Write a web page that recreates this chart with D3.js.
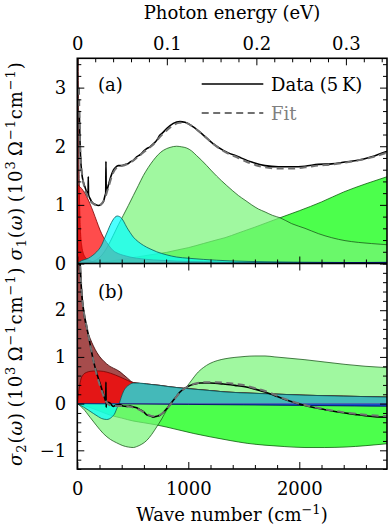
<!DOCTYPE html>
<html>
<head>
<meta charset="utf-8">
<script src="https://cdn.jsdelivr.net/npm/d3@7"></script>
<style>
  body { margin: 0; background: #fff; }
  svg { display: block; font-family: "DejaVu Serif", serif; }
</style>
</head>
<body>
<div id="chart"></div>
<script>
// ---- data (wave number in cm^-1, conductivity in 10^3 Ohm^-1 cm^-1) ----
const waveDomain = [0, 2790];
const sigma1Domain = [0, 3.5];
const sigma2Domain = [-1.4, 3];
const waveTicks = [0, 1000, 2000];
const waveMinorTicks = [200, 400, 600, 800, 1200, 1400, 1600, 1800, 2200, 2400, 2600];
const energyTicks = [0, 0.1, 0.2, 0.3];
const energyMinorTicks = [0.02, 0.04, 0.06, 0.08, 0.12, 0.14, 0.16, 0.18, 0.22, 0.24, 0.26, 0.28, 0.32, 0.34];
const sigma1Ticks = [0, 1, 2, 3];
const sigma2Ticks = [-1, 0, 1, 2];
const cmPerEV = 8065.54;

// measured sigma1
const dataS1 = [[18,2.6],[24,2.1],[30,1.8],[40,1.55],[54,1.39],[70,1.3],[85,1.22],[97,1.2],[99,1.48],[101,1.18],
  [114,1.11],[140,1.03],[160,1.01],[189,0.99],[215,1.01],[234,1.05],[250,1.16],[256,1.2],[258,1.74],[261,1.22],
  [279,1.33],[300,1.47],[324,1.59],[345,1.64],[369,1.67],[400,1.67],[430,1.69],[455,1.7],[475,1.73],[505,1.76],
  [535,1.82],[570,1.86],[600,1.92],[625,1.96],[655,1.99],[685,2.04],[715,2.1],[745,2.19],[775,2.24],[805,2.3],
  [865,2.39],[925,2.42],[970,2.41],[1045,2.33],[1135,2.19],[1225,2.04],[1315,1.93],[1451,1.82],[1571,1.73],
  [1691,1.67],[1811,1.65],[1931,1.65],[2051,1.66],[2171,1.69],[2292,1.7],[2412,1.73],[2532,1.76],[2652,1.82],
  [2772,1.9],[2790,1.91]];
const fitS1 = [[15,3.0],[20,2.4],[30,1.8],[45,1.5],[60,1.33],[80,1.2],[100,1.12],[130,1.04],[160,1.0],[190,0.98],
  [220,1.02],[250,1.12],[280,1.3],[324,1.55],[369,1.65],[430,1.68],[475,1.72],[535,1.8],[625,1.94],[685,2.03],
  [745,2.16],[805,2.27],[865,2.36],[925,2.4],[970,2.4],[1045,2.33],[1135,2.19],[1225,2.04],[1315,1.92],
  [1451,1.8],[1571,1.7],[1691,1.64],[1811,1.62],[1931,1.62],[2051,1.64],[2171,1.67],[2292,1.69],[2412,1.72],
  [2532,1.76],[2652,1.81],[2772,1.88],[2790,1.89]];

// measured sigma2
const dataS2 = [[24,3.05],[40,2.36],[60,1.95],[85,1.64],[115,1.28],[144,0.93],[175,0.65],[205,0.43],[234,0.21],
  [250,0.09],[256,0.05],[258,0.46],[260,-0.08],[262,0.02],[279,0.03],[295,0.01],[324,-0.06],[350,-0.03],
  [385,-0.02],[410,-0.05],[445,-0.06],[475,-0.05],[505,-0.07],[535,-0.09],[565,-0.13],[595,-0.17],[625,-0.24],
  [655,-0.26],[685,-0.29],[715,-0.27],[745,-0.25],[775,-0.19],[805,-0.11],[835,-0.02],[865,0.07],[895,0.16],
  [925,0.25],[970,0.33],[1015,0.39],[1060,0.42],[1105,0.44],[1195,0.44],[1315,0.42],[1420,0.39],[1511,0.36],
  [1600,0.31],[1691,0.25],[1780,0.17],[1871,0.09],[1960,0.02],[2051,-0.04],[2140,-0.09],[2231,-0.13],
  [2322,-0.17],[2412,-0.2],[2500,-0.23],[2592,-0.26],[2680,-0.28],[2790,-0.29]];
const fitS2 = [[22,3.2],[40,2.36],[60,1.95],[85,1.64],[115,1.28],[144,0.93],[175,0.62],[205,0.38],[234,0.18],
  [260,0.04],[290,-0.03],[330,-0.05],[400,-0.05],[475,-0.07],[550,-0.12],[625,-0.22],[685,-0.27],[745,-0.24],
  [805,-0.12],[865,0.06],[925,0.24],[1015,0.39],[1105,0.45],[1195,0.46],[1315,0.45],[1420,0.42],[1511,0.39],
  [1600,0.33],[1691,0.27],[1780,0.19],[1871,0.1],[1960,0.03],[2051,-0.03],[2231,-0.12],[2412,-0.19],
  [2592,-0.24],[2790,-0.27]];

// fit components, sigma1
const narrowDrudeS1 = [[0,8],[4,5],[8,3.6],[12,2.4],[16,1.6],[20,1.1],[24,0.75],[30,0.5],[40,0.3],[55,0.17],
  [70,0.11],[100,0.06],[150,0.03],[250,0.015],[500,0.005],[2790,0]];
const broadDrudeS1 = [[0,1.35],[24,1.31],[54,1.24],[85,1.14],[114,1.02],[144,0.88],[175,0.72],[205,0.57],
  [235,0.45],[265,0.36],[295,0.28],[324,0.22],[369,0.17],[414,0.14],[475,0.11],[535,0.09],[625,0.07],
  [745,0.055],[900,0.04],[1135,0.03],[1400,0.02],[2000,0.012],[2790,0.006]];
const farIrS1 = [[0,0],[40,0.05],[100,0.09],[140,0.14],[175,0.2],[215,0.3],[250,0.45],[275,0.56],[295,0.65],
  [320,0.74],[340,0.79],[360,0.81],[380,0.8],[400,0.77],[420,0.71],[445,0.62],[475,0.53],[505,0.45],[550,0.37],
  [595,0.31],[655,0.25],[715,0.2],[800,0.15],[895,0.11],[1000,0.09],[1135,0.07],[1376,0.045],[1700,0.03],
  [2200,0.02],[2790,0.012]];
const midIrS1 = [[0,0],[100,0.02],[160,0.05],[220,0.14],[270,0.28],[324,0.48],[370,0.66],[414,0.82],[460,0.99],
  [505,1.16],[550,1.33],[595,1.5],[640,1.64],[685,1.76],[730,1.86],[775,1.93],[835,1.98],[895,2.0],[940,1.99],
  [985,1.97],[1030,1.92],[1075,1.84],[1120,1.76],[1166,1.67],[1210,1.58],[1256,1.49],[1300,1.41],[1346,1.33],
  [1400,1.24],[1451,1.16],[1511,1.08],[1571,1.0],[1631,0.93],[1691,0.88],[1760,0.82],[1826,0.78],[1931,0.68],
  [2051,0.6],[2171,0.51],[2292,0.44],[2412,0.39],[2532,0.36],[2652,0.34],[2790,0.32]];
const nearIrS1 = [[0,0],[100,0.005],[200,0.02],[300,0.04],[400,0.07],[500,0.1],[600,0.13],[700,0.16],[805,0.19],
  [900,0.23],[1000,0.27],[1135,0.34],[1250,0.4],[1331,0.44],[1450,0.52],[1600,0.62],[1826,0.78],[2000,0.9],
  [2200,1.05],[2400,1.22],[2600,1.36],[2790,1.48]];
const uvS1 = [[0,0],[1000,0.003],[2000,0.01],[2790,0.02]];

// fit components, sigma2
const narrowDrudeS2 = [[0,0],[2,6],[10,5],[24,3.2],[40,2.4],[54,2.0],[85,1.6],[115,1.4],[175,1.1],[265,0.85],
  [385,0.68],[450,0.55],[505,0.45],[625,0.42],[745,0.39],[835,0.36],[1000,0.32],[1195,0.28],[1331,0.25],
  [1600,0.22],[2051,0.18],[2400,0.16],[2790,0.14]];
const broadDrudeS2 = [[0,0],[15,0.3],[30,0.5],[54,0.62],[85,0.67],[114,0.69],[175,0.7],[234,0.69],[300,0.65],
  [385,0.57],[450,0.5],[505,0.45],[625,0.42],[745,0.39],[835,0.36],[1000,0.32],[1195,0.28],[1331,0.25],
  [1600,0.22],[2051,0.18],[2400,0.16],[2790,0.14]];
const farIrS2 = [[0,0],[54,-0.07],[100,-0.14],[144,-0.21],[190,-0.28],[220,-0.32],[265,-0.34],[310,-0.29],
  [340,-0.2],[355,-0.11],[378,0],[395,0.13],[414,0.25],[440,0.35],[460,0.39],[505,0.44],[560,0.44],[625,0.42],
  [745,0.39],[835,0.36],[1000,0.32],[1195,0.28],[1331,0.25],[1600,0.22],[2051,0.18],[2400,0.16],[2790,0.14]];
const midIrS2 = [[0,0],[50,-0.1],[114,-0.29],[170,-0.46],[234,-0.64],[300,-0.77],[355,-0.84],[410,-0.9],
  [460,-0.93],[505,-0.94],[535,-0.92],[580,-0.87],[625,-0.79],[670,-0.66],[715,-0.5],[760,-0.33],[805,-0.14],
  [865,0.05],[925,0.2],[985,0.36],[1030,0.5],[1075,0.64],[1135,0.77],[1195,0.86],[1260,0.92],[1331,0.96],
  [1420,0.99],[1511,1.01],[1600,1.02],[1691,1.02],[1780,1.0],[1871,0.98],[2051,0.94],[2231,0.89],[2412,0.84],
  [2592,0.8],[2790,0.77]];
const nearIrS2 = [[0,0],[100,-0.07],[200,-0.16],[300,-0.25],[400,-0.31],[500,-0.37],[600,-0.41],[700,-0.45],
  [800,-0.5],[925,-0.57],[1050,-0.64],[1195,-0.71],[1376,-0.79],[1530,-0.85],[1691,-0.89],[1870,-0.92],
  [2051,-0.94],[2230,-0.94],[2412,-0.93],[2600,-0.9],[2790,-0.86]];
const uvS2 = [[0,0],[500,-0.008],[1000,-0.017],[1500,-0.027],[2000,-0.038],[2500,-0.05],[2790,-0.056]];

// drawing order and colours of the components
const components = [
  { s1: nearIrS1, s2: nearIrS2, fill: "#00ff00", edge: "#0b5e0b" },
  { s1: midIrS1, s2: midIrS2, fill: "#77f577", edge: "#1d5a1d" },
  { s1: narrowDrudeS1, s2: narrowDrudeS2, fill: "#800000", edge: "#3a0000" },
  { s1: broadDrudeS1, s2: broadDrudeS2, fill: "#ff0000", edge: "#7a0000" },
  { s1: farIrS1, s2: farIrS2, fill: "#00ffff", edge: "#0a5a5a" },
  { s1: uvS1, s2: uvS2, fill: "#0000ff", edge: "#000060" }
];

// ---- layout ----
const W = 388, H = 529;
const left = 77.3, right = 387;
const topA = 58.3, midY = 263.5, botB = 469;
const FS = 18, SS = 13;

const svg = d3.select("#chart").append("svg")
  .attr("width", W).attr("height", H);

const x = d3.scaleLinear().domain(waveDomain).range([left, right]);
const yA = d3.scaleLinear().domain(sigma1Domain).range([midY, topA]);
const yB = d3.scaleLinear().domain(sigma2Domain).range([botB, midY]);
const xE = d3.scaleLinear().domain(waveDomain.map(d => d / cmPerEV)).range([left, right]);

function drawPanel(id, y, key, data, fit, top, bottom) {
  svg.append("clipPath").attr("id", id)
    .append("rect").attr("x", left).attr("y", top).attr("width", right - left).attr("height", bottom - top);
  const g = svg.append("g").attr("clip-path", `url(#${id})`);

  components.forEach(c => {
    const pts = c[key];
    g.append("path")
      .attr("d", d3.area().x(d => x(d[0])).y0(y(0)).y1(d => y(d[1])).curve(d3.curveMonotoneX)(pts))
      .attr("fill", c.fill).attr("fill-opacity", 0.7);
    g.append("path")
      .attr("d", d3.line().x(d => x(d[0])).y(d => y(d[1])).curve(d3.curveMonotoneX)(pts))
      .attr("fill", "none").attr("stroke", c.edge).attr("stroke-width", 0.8);
  });

  g.append("path")
    .attr("d", d3.line().x(d => x(d[0])).y(d => y(d[1])).curve(d3.curveMonotoneX)(data))
    .attr("fill", "none").attr("stroke", "#000").attr("stroke-width", 1.6);
  g.append("path")
    .attr("d", d3.line().x(d => x(d[0])).y(d => y(d[1])).curve(d3.curveMonotoneX)(fit))
    .attr("fill", "none").attr("stroke", "#707070").attr("stroke-width", 2)
    .attr("stroke-dasharray", "7,4.5");
}

drawPanel("clipA", yA, "s1", dataS1, fitS1, topA, midY);
drawPanel("clipB", yB, "s2", dataS2, fitS2, midY, botB);

// ---- axes (ticks point inward) ----
function addAxis(axis, tx, ty) {
  const g = svg.append("g").attr("transform", `translate(${tx},${ty})`).call(axis);
  g.select(".domain").remove();
  g.selectAll("line").attr("stroke", "#000").attr("stroke-width", 1);
  g.selectAll("text").attr("font-family", "DejaVu Serif").attr("font-size", FS).attr("fill", "#000");
  return g;
}
const fmt = d3.format("d");
const minus = v => (v < 0 ? "\u2212" + Math.abs(v) : String(v));

// top energy axis
addAxis(d3.axisTop(xE).tickValues(energyTicks).tickSize(-7).tickPadding(8)
  .tickFormat(d => d === 0 ? "0" : d3.format(".1f")(d)), 0, topA);
addAxis(d3.axisTop(xE).tickValues(energyMinorTicks).tickSize(-4).tickFormat(""), 0, topA);

// bottom wave axis
addAxis(d3.axisBottom(x).tickValues(waveTicks).tickSize(-7).tickPadding(13).tickFormat(fmt), 0, botB);
addAxis(d3.axisBottom(x).tickValues(waveMinorTicks).tickSize(-4).tickFormat(""), 0, botB);
// shared middle axis
addAxis(d3.axisBottom(x).tickValues(waveTicks).tickSize(-7).tickFormat(""), 0, midY);
addAxis(d3.axisBottom(x).tickValues(waveMinorTicks).tickSize(-4).tickFormat(""), 0, midY);
addAxis(d3.axisTop(x).tickValues(waveTicks).tickSize(-7).tickFormat(""), 0, midY);
addAxis(d3.axisTop(x).tickValues(waveMinorTicks).tickSize(-4).tickFormat(""), 0, midY);

function yAxes(y, ticks, lo, hi) {
  const minor = d3.range(Math.ceil(lo * 5), Math.floor(hi * 5) + 1).map(k => k / 5)
    .filter(v => !ticks.some(t => Math.abs(t - v) < 1e-9));
  addAxis(d3.axisLeft(y).tickValues(ticks).tickSize(-7).tickPadding(11).tickFormat(minus), left, 0);
  addAxis(d3.axisLeft(y).tickValues(minor).tickSize(-4).tickFormat(""), left, 0);
  addAxis(d3.axisRight(y).tickValues(ticks).tickSize(-7).tickFormat(""), right, 0);
  addAxis(d3.axisRight(y).tickValues(minor).tickSize(-4).tickFormat(""), right, 0);
}
yAxes(yA, sigma1Ticks, sigma1Domain[0], sigma1Domain[1]);
yAxes(yB, sigma2Ticks, sigma2Domain[0], sigma2Domain[1]);

// frame
svg.append("rect").attr("x", left).attr("y", topA).attr("width", right - left).attr("height", botB - topA)
  .attr("fill", "none").attr("stroke", "#000").attr("stroke-width", 1.6);
svg.append("line").attr("x1", left).attr("x2", right).attr("y1", midY).attr("y2", midY)
  .attr("stroke", "#000").attr("stroke-width", 1.6);

// ---- titles ----
svg.append("text").attr("x", 232).attr("y", 18.5).attr("text-anchor", "middle")
  .attr("font-size", FS).text("Photon energy (eV)");

const xl = svg.append("text").attr("x", 232).attr("y", 520.5).attr("text-anchor", "middle").attr("font-size", FS);
xl.append("tspan").text("Wave number (cm");
xl.append("tspan").attr("dy", -7).attr("font-size", SS).text("\u22121");
xl.append("tspan").attr("dy", 7).text(")");

function yLabel(cy, sub) {
  const t = svg.append("text").attr("transform", `translate(22,${cy}) rotate(-90)`)
    .attr("text-anchor", "middle").attr("font-size", FS).attr("letter-spacing", 0.9);
  t.append("tspan").attr("font-style", "italic").text("\u03c3");
  t.append("tspan").attr("dy", 4).attr("font-size", SS).text(sub);
  t.append("tspan").attr("dy", -4).text("(");
  t.append("tspan").attr("font-style", "italic").text("\u03c9");
  t.append("tspan").text(")\u2009(10");
  t.append("tspan").attr("dy", -7).attr("font-size", SS).text("3");
  t.append("tspan").attr("dy", 7).text("\u2009\u03a9");
  t.append("tspan").attr("dy", -7).attr("font-size", SS).text("\u22121");
  t.append("tspan").attr("dy", 7).text("cm");
  t.append("tspan").attr("dy", -7).attr("font-size", SS).text("\u22121");
  t.append("tspan").attr("dy", 7).text(")");
}
yLabel((topA + midY) / 2, "1");
yLabel((midY + botB) / 2, "2");

svg.append("text").attr("x", 98).attr("y", 91).attr("font-size", FS).text("(a)");
svg.append("text").attr("x", 98).attr("y", 298).attr("font-size", FS).text("(b)");

// legend
svg.append("line").attr("x1", 201.7).attr("x2", 263.3).attr("y1", 84).attr("y2", 84)
  .attr("stroke", "#000").attr("stroke-width", 1.6);
svg.append("text").attr("x", 271).attr("y", 90.5).attr("font-size", FS).text("Data (5\u2009K)");
svg.append("line").attr("x1", 201.7).attr("x2", 263.3).attr("y1", 113).attr("y2", 113)
  .attr("stroke", "#707070").attr("stroke-width", 2).attr("stroke-dasharray", "7,4.5");
svg.append("text").attr("x", 271).attr("y", 119.5).attr("font-size", FS).attr("fill", "#808080").text("Fit");
</script>
</body>
</html>
